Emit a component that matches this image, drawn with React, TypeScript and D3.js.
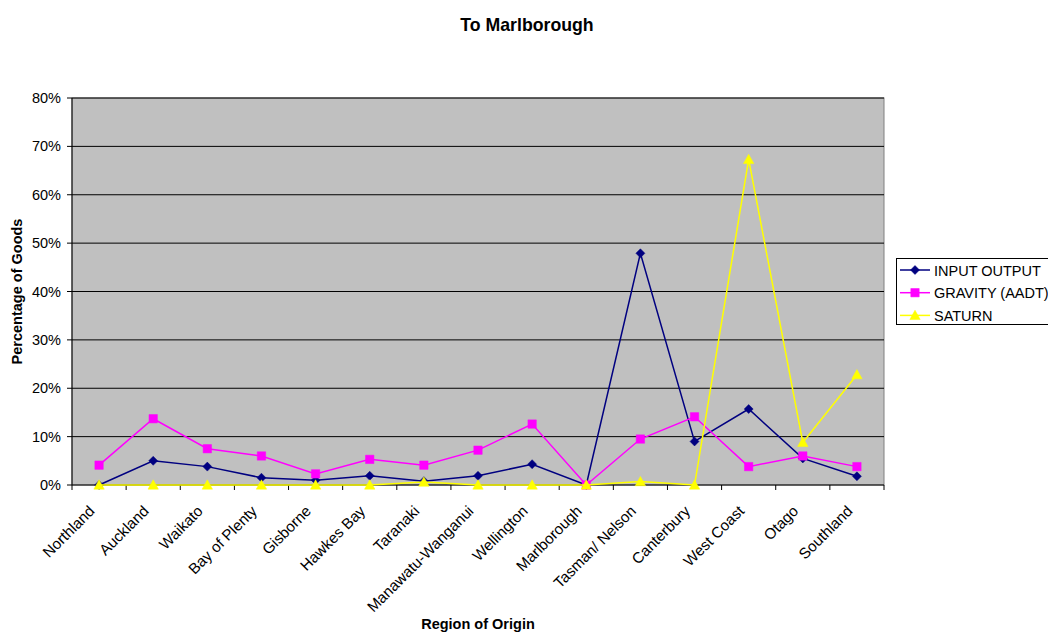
import React from "react";
import * as d3 from "d3";

const regions = [
  "Northland", "Auckland", "Waikato", "Bay of Plenty", "Gisborne", "Hawkes Bay",
  "Taranaki", "Manawatu-Wanganui", "Wellington", "Marlborough", "Tasman/ Nelson",
  "Canterbury", "West Coast", "Otago", "Southland",
];
const inputOutput = [0, 5.0, 3.8, 1.5, 1.0, 1.9, 0.8, 1.9, 4.3, 0, 47.9, 9.0, 15.7, 5.5, 1.8];
const gravity = [4.1, 13.7, 7.5, 6.0, 2.3, 5.3, 4.1, 7.2, 12.6, 0, 9.5, 14.1, 3.8, 6.0, 3.8];
const saturn = [0, 0, 0, 0, 0, 0, 0.6, 0, 0, 0, 0.7, 0, 67.3, 8.8, 22.8];
const yTicks = [0, 10, 20, 30, 40, 50, 60, 70, 80];

const seriesList = [
  { name: "INPUT OUTPUT", values: inputOutput, color: "#000080", marker: "diamond" },
  { name: "GRAVITY (AADT)", values: gravity, color: "#FF00FF", marker: "square" },
  { name: "SATURN", values: saturn, color: "#FFFF00", marker: "triangle" },
];

const W = 1048;
const H = 633;
const plot = { left: 72, right: 884, top: 98, bottom: 485 };
const FONT = "Liberation Sans, Arial, sans-serif";
const FS = 14.5;

function markerPath(kind: string, x: number, y: number): string {
  if (kind === "diamond") {
    const r = 4.5;
    return `M${x},${y - r}L${x + r},${y}L${x},${y + r}L${x - r},${y}Z`;
  }
  if (kind === "square") {
    const r = 4.2;
    return `M${x - r},${y - r}H${x + r}V${y + r}H${x - r}Z`;
  }
  const r = 5.2;
  return `M${x},${y - r}L${x + r},${y + r * 0.8}L${x - r},${y + r * 0.8}Z`;
}

export default function App() {
  const x = d3
    .scaleBand<string>()
    .domain(regions)
    .range([plot.left, plot.right]);
  const y = d3.scaleLinear().domain([0, 80]).range([plot.bottom, plot.top]);
  const cx = (r: string) => (x(r) as number) + x.bandwidth() / 2;

  const line = d3
    .line<number>()
    .x((_, i) => cx(regions[i]))
    .y((v) => y(v));

  const boundaries = regions.map((r) => x(r) as number).concat([plot.right]);

  return (
    <svg width={W} height={H} style={{ position: "absolute", left: 0, top: 0, background: "#fff" }}>
      <text x={527} y={31} textAnchor="middle" fontFamily={FONT} fontSize={17.7} fontWeight="bold">
        To Marlborough
      </text>

      <rect
        x={plot.left}
        y={plot.top}
        width={plot.right - plot.left}
        height={plot.bottom - plot.top}
        fill="#C0C0C0"
        stroke="#808080"
        strokeWidth={1}
      />

      {yTicks.map((t) => (
        <g key={t}>
          {t > 0 && (
            <line x1={plot.left} x2={plot.right} y1={y(t)} y2={y(t)} stroke="#000" strokeWidth={1} />
          )}
          <line x1={plot.left - 5} x2={plot.left} y1={y(t)} y2={y(t)} stroke="#000" />
          <text x={61} y={y(t) + 5} textAnchor="end" fontFamily={FONT} fontSize={FS}>
            {t}%
          </text>
        </g>
      ))}

      <line x1={plot.left} x2={plot.left} y1={plot.top} y2={plot.bottom} stroke="#000" />
      <line x1={plot.left} x2={plot.right} y1={plot.bottom} y2={plot.bottom} stroke="#000" />
      {boundaries.map((b, i) => (
        <line key={i} x1={b} x2={b} y1={plot.bottom} y2={plot.bottom + 5} stroke="#000" />
      ))}

      {regions.map((r) => (
        <text
          key={r}
          transform={`translate(${cx(r) - 3.5},${plot.bottom + 27}) rotate(-45)`}
          textAnchor="end"
          fontFamily={FONT}
          fontSize={15.2}
        >
          {r}
        </text>
      ))}

      {seriesList.map((s) => (
        <g key={s.name}>
          <path d={line(s.values) || ""} fill="none" stroke={s.color} strokeWidth={1.5} />
          {s.values.map((v, i) => (
            <path key={i} d={markerPath(s.marker, cx(regions[i]), y(v))} fill={s.color} stroke={s.color} strokeWidth={0.5} />
          ))}
        </g>
      ))}

      <text
        transform={`translate(22,${(plot.top + plot.bottom) / 2}) rotate(-90)`}
        textAnchor="middle"
        fontFamily={FONT}
        fontSize={FS}
        fontWeight="bold"
      >
        Percentage of Goods
      </text>
      <text x={478} y={629} textAnchor="middle" fontFamily={FONT} fontSize={FS} fontWeight="bold">
        Region of Origin
      </text>

      <rect x={896.5} y={258.5} width={170} height={66} fill="#fff" stroke="#000" strokeWidth={1} />
      {seriesList.map((s, i) => {
        const ly = 270 + i * 22.7;
        return (
          <g key={s.name}>
            <line x1={900} x2={930} y1={ly} y2={ly} stroke={s.color} strokeWidth={1.5} />
            <path d={markerPath(s.marker, 915, ly)} fill={s.color} stroke={s.color} strokeWidth={0.5} />
            <text x={934} y={ly + 5.5} fontFamily={FONT} fontSize={FS}>
              {s.name}
            </text>
          </g>
        );
      })}
    </svg>
  );
}
